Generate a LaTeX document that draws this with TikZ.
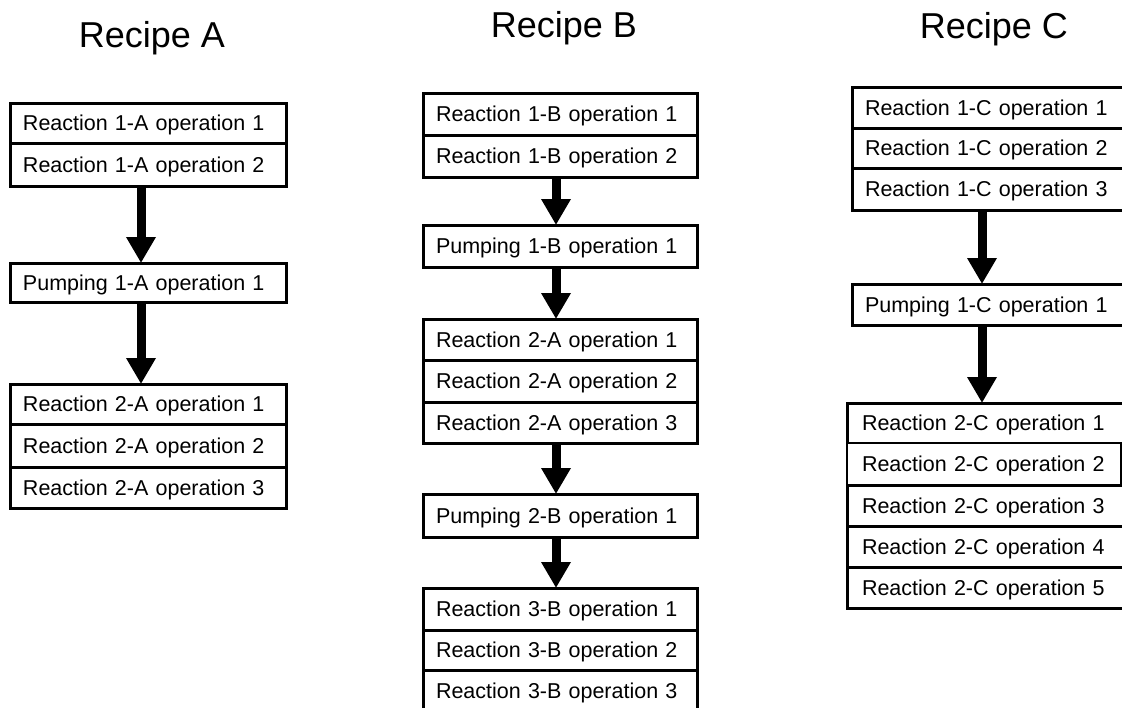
\documentclass[tikz,border=0pt]{standalone}
\usepackage{fontspec}
\setmainfont{Liberation Sans}
\usetikzlibrary{arrows.meta}
\tikzset{
  opbox/.style={draw=black, line width=3pt, fill=white, rectangle, anchor=north west,
    minimum width=276pt, text width=250pt, inner xsep=13pt, inner ysep=0pt, outer sep=0pt,
    align=left, text height=15.5pt, text depth=0pt,
    font=\fontsize{21.5}{26}\selectfont},
  title/.style={anchor=base, font=\fontsize{36}{42}\selectfont},
  flow/.style={line width=9pt, -{Triangle[width=28pt,length=26pt]}}
}
\begin{document}
\begin{tikzpicture}[x=1pt,y=-1pt]
\clip (0,0) rectangle (1122,707);
\fill[white] (0,0) rectangle (1122,707);
% titles
\node[title] (tA) at (152,47) {Recipe A};
\node[title] (tB) at (564,37) {Recipe B};
\node[title] (tC) at (994,38) {Recipe C};
% Recipe A
\node[opbox, minimum height=40pt] (A1) at (10,103) {Reaction 1-A operation 1};
\node[opbox, minimum height=43pt] (A2) at (10,143) {Reaction 1-A operation 2};
\node[opbox, minimum height=39pt] (AP) at (10,263) {Pumping 1-A operation 1};
\node[opbox, minimum height=40pt] (A3) at (10,384) {Reaction 2-A operation 1};
\node[opbox, minimum height=43pt] (A4) at (10,424) {Reaction 2-A operation 2};
\node[opbox, minimum height=41pt] (A5) at (10,467) {Reaction 2-A operation 3};
\draw[flow] ([xshift=-7pt]A2.south) -- ([xshift=-7pt]AP.north);
\draw[flow] ([xshift=-7pt]AP.south) -- ([xshift=-7pt]A3.north);
% Recipe B
\node[opbox, minimum width=274pt, text width=248pt, minimum height=42pt] (B1) at (423,93) {Reaction 1-B operation 1};
\node[opbox, minimum width=274pt, text width=248pt, minimum height=42pt] (B2) at (423,135) {Reaction 1-B operation 2};
\node[opbox, minimum width=274pt, text width=248pt, minimum height=42pt] (BP1) at (423,225) {Pumping 1-B operation 1};
\node[opbox, minimum width=274pt, text width=248pt, minimum height=41pt] (B3) at (423,319) {Reaction 2-A operation 1};
\node[opbox, minimum width=274pt, text width=248pt, minimum height=42pt] (B4) at (423,360) {Reaction 2-A operation 2};
\node[opbox, minimum width=274pt, text width=248pt, minimum height=41pt] (B5) at (423,402) {Reaction 2-A operation 3};
\node[opbox, minimum width=274pt, text width=248pt, minimum height=43pt] (BP2) at (423,494) {Pumping 2-B operation 1};
\node[opbox, minimum width=274pt, text width=248pt, minimum height=42pt] (B6) at (423,588) {Reaction 3-B operation 1};
\node[opbox, minimum width=274pt, text width=248pt, minimum height=40pt] (B7) at (423,630) {Reaction 3-B operation 2};
\node[opbox, minimum width=274pt, text width=248pt, minimum height=42pt] (B8) at (423,670) {Reaction 3-B operation 3};
\draw[flow] ([xshift=-4pt]B2.south) -- ([xshift=-4pt]BP1.north);
\draw[flow] ([xshift=-4pt]BP1.south) -- ([xshift=-4pt]B3.north);
\draw[flow] ([xshift=-4pt]B5.south) -- ([xshift=-4pt]BP2.north);
\draw[flow] ([xshift=-4pt]BP2.south) -- ([xshift=-4pt]B6.north);
% Recipe C
\node[opbox, minimum width=290pt, text width=264pt, minimum height=41pt] (C1) at (852,87) {Reaction 1-C operation 1};
\node[opbox, minimum width=290pt, text width=264pt, minimum height=40pt] (C2) at (852,128) {Reaction 1-C operation 2};
\node[opbox, minimum width=290pt, text width=264pt, minimum height=42pt] (C3) at (852,168) {Reaction 1-C operation 3};
\node[opbox, minimum width=290pt, text width=264pt, minimum height=41pt] (CP) at (852,284) {Pumping 1-C operation 1};
\node[opbox, minimum width=295pt, text width=269pt, inner xsep=15pt, minimum height=40pt] (C4) at (847,403) {Reaction 2-C operation 1};
\node[opbox, minimum width=274pt, text width=244pt, inner xsep=15pt, line width=1.4pt, minimum height=42pt] (C5) at (847,443) {\mbox{Reaction 2-C operation 2}};
\node[opbox, minimum width=295pt, text width=269pt, inner xsep=15pt, minimum height=41pt] (C6) at (847,485) {Reaction 2-C operation 3};
\node[opbox, minimum width=295pt, text width=269pt, inner xsep=15pt, minimum height=41pt] (C7) at (847,526) {Reaction 2-C operation 4};
\node[opbox, minimum width=295pt, text width=269pt, inner xsep=15pt, minimum height=41pt] (C8) at (847,567) {Reaction 2-C operation 5};
\draw[flow] ([xshift=-15pt]C3.south) -- ([xshift=-15pt]CP.north);
\draw[flow] ([xshift=-15pt]CP.south) -- ([xshift=-15pt]CP.south |- C4.north);
\end{tikzpicture}
\end{document}
